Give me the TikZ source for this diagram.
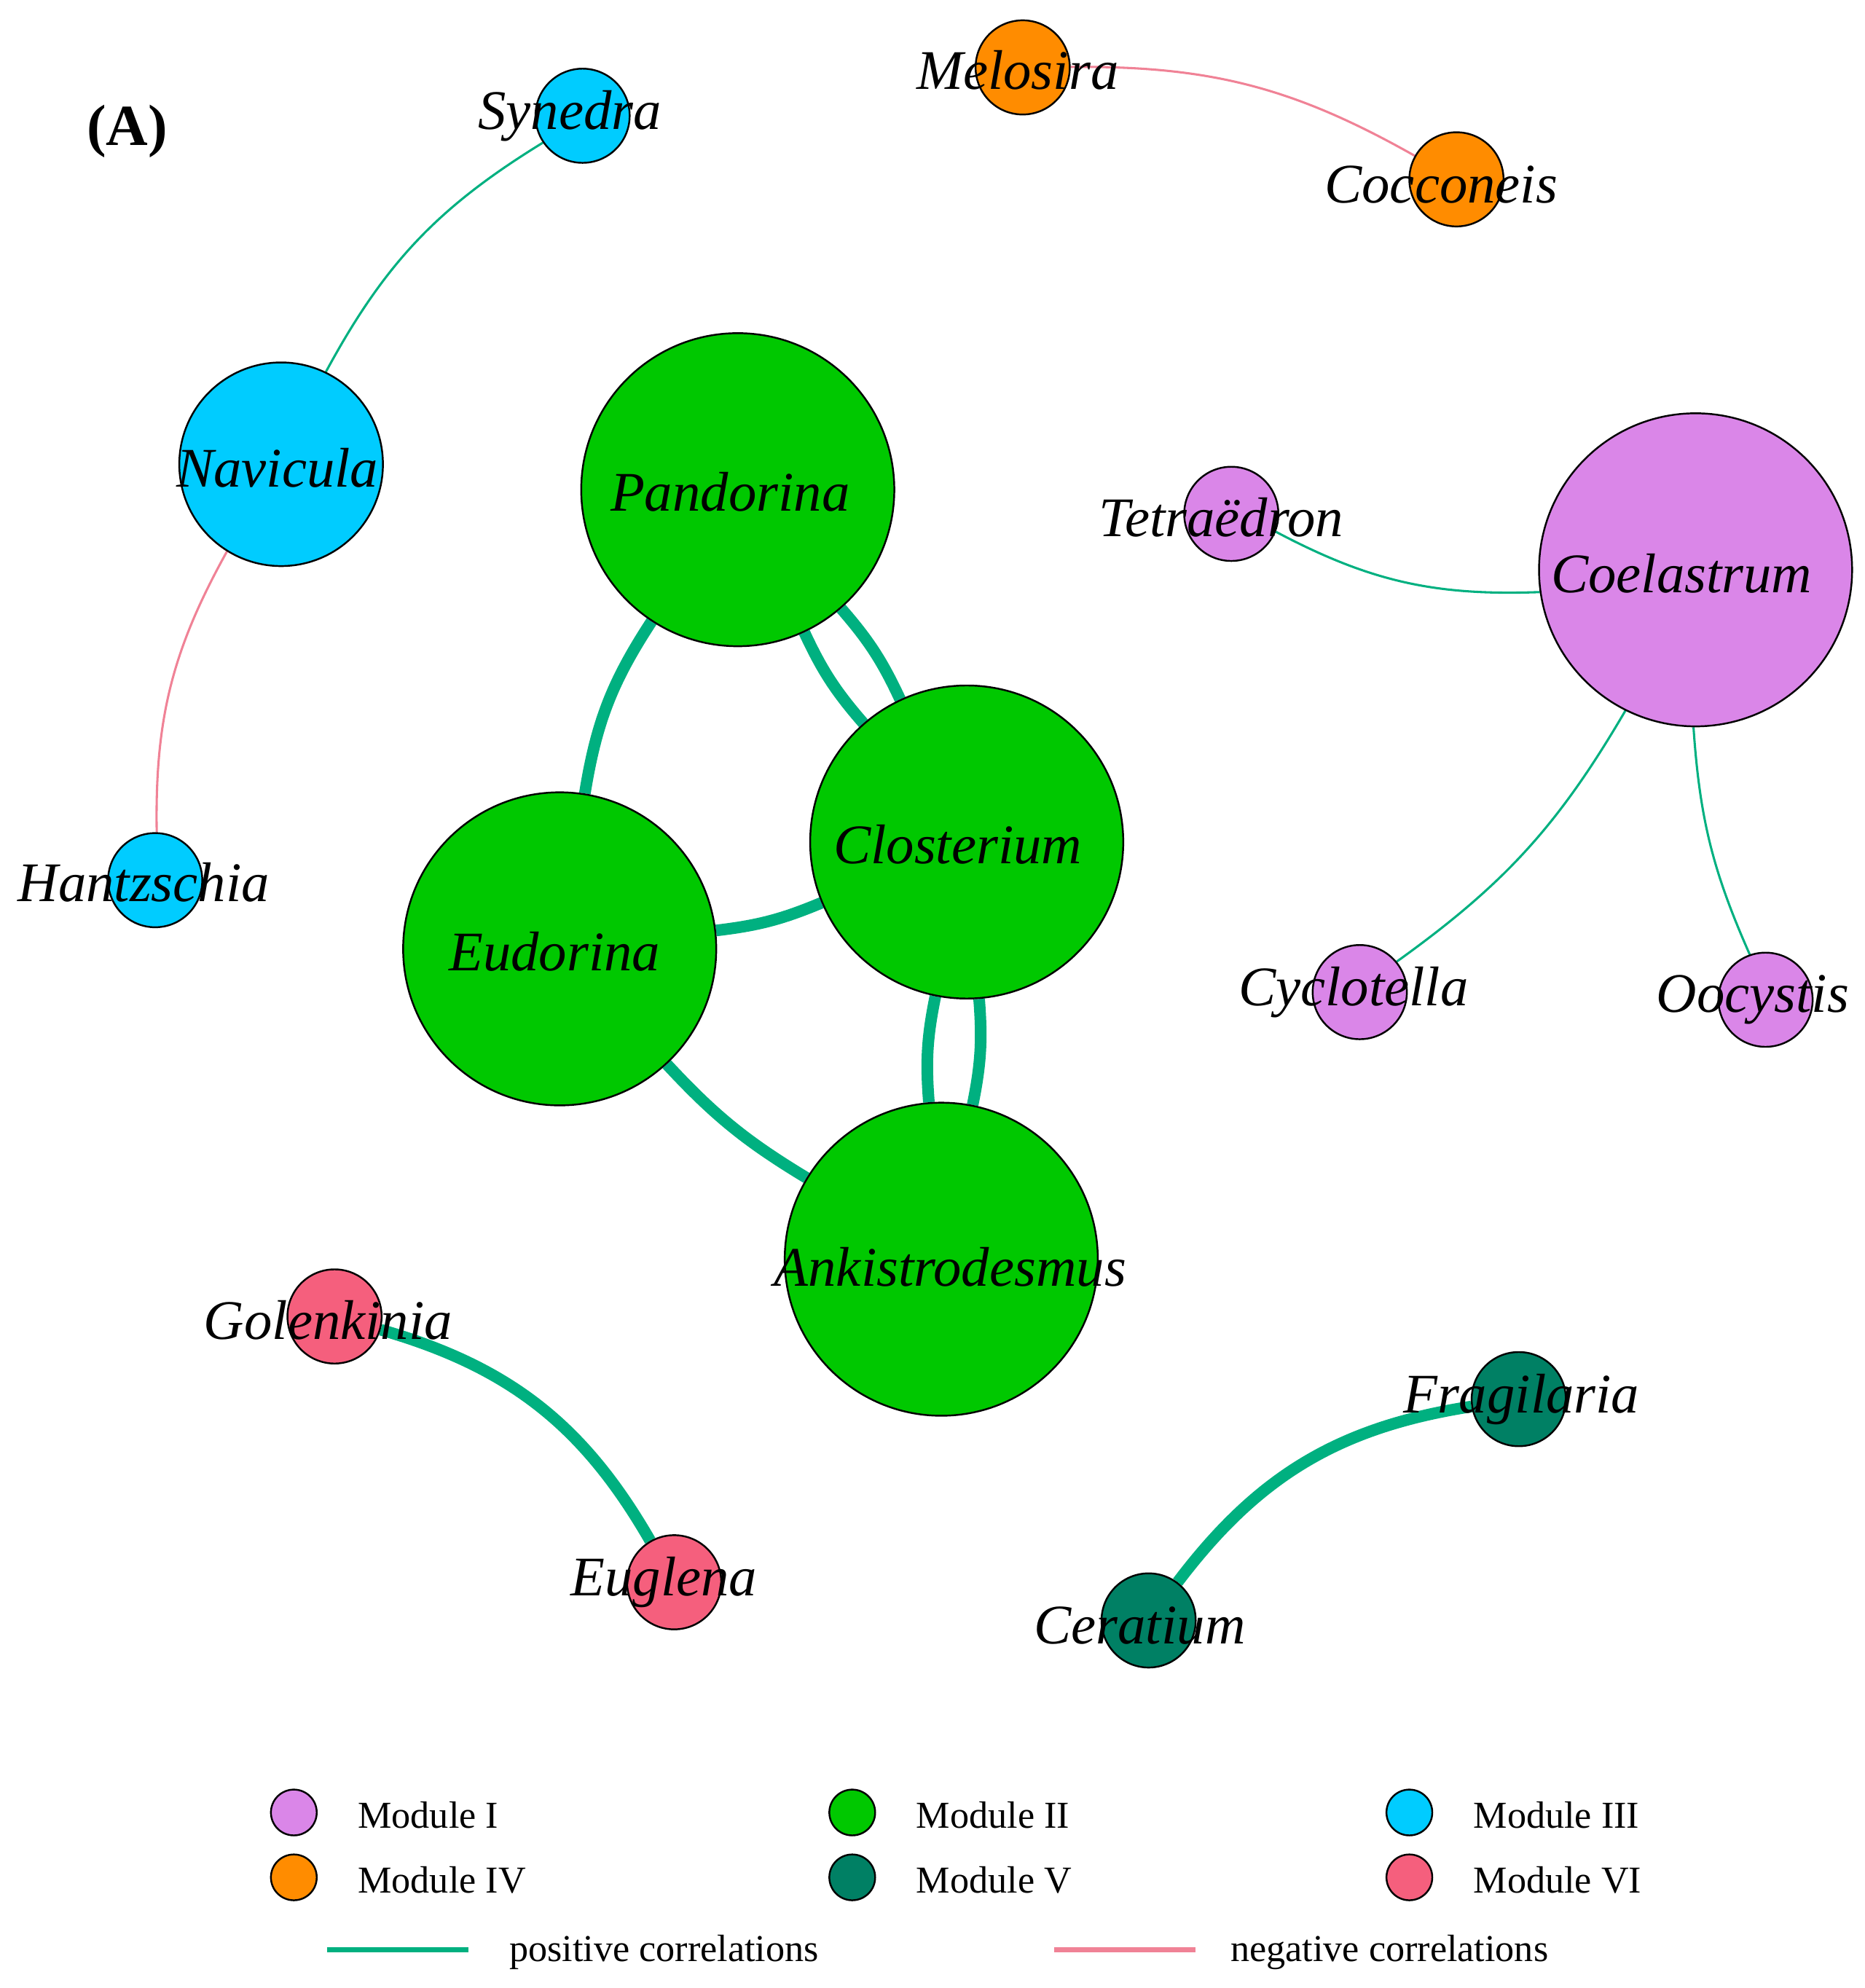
\documentclass[tikz,border=0pt]{standalone}
\usepackage{fontspec}
\setmainfont{Liberation Serif}
\usetikzlibrary{backgrounds}
\definecolor{viol}{RGB}{218,134,232}
\definecolor{grn}{RGB}{0,200,0}
\definecolor{cyn}{RGB}{0,204,255}
\definecolor{orng}{RGB}{255,140,0}
\definecolor{dteal}{RGB}{0,128,100}
\definecolor{pnk}{RGB}{245,95,125}
\definecolor{poscol}{RGB}{0,176,128}
\definecolor{negcol}{RGB}{240,130,150}

\tikzset{
  taxon/.style={circle,draw=black,thin,inner sep=0pt,minimum size=#1},
  lab/.style={font=\fontsize{12.5}{14}\selectfont\itshape},
  posthin/.style={draw=poscol,line width=0.5pt},
  posthick/.style={draw=poscol,line width=2.6pt},
  negthin/.style={draw=negcol,line width=0.5pt},
  legtext/.style={font=\fontsize{8.5}{10}\selectfont,anchor=west}
}

\begin{document}
\begin{tikzpicture}[x=0.01cm,y=-0.01cm]
\useasboundingbox (0,0) rectangle (1466,1563);

\node[font=\fontsize{13}{15}\selectfont\bfseries] (tag) at (100,103) {(A)};

% small nodes
\node[taxon=0.74cm,fill=cyn] (Syn) at (458,91) {};
\node[taxon=0.74cm,fill=orng] (Mel) at (804,53) {};
\node[taxon=0.74cm,fill=orng] (Coc) at (1145,141) {};
\node[taxon=1.6cm,fill=cyn] (Nav) at (221,365) {};
\node[taxon=2.46cm,fill=grn] (Pan) at (580,385) {};
\node[taxon=0.74cm,fill=viol] (Tet) at (968,404) {};
\node[taxon=2.46cm,fill=viol] (Coe) at (1333,448) {};
\node[taxon=0.74cm,fill=cyn] (Han) at (122,692) {};
\node[taxon=2.46cm,fill=grn] (Clo) at (760,662) {};
\node[taxon=2.46cm,fill=grn] (Eud) at (440,746) {};
\node[taxon=0.74cm,fill=viol] (Cyc) at (1069,780) {};
\node[taxon=0.74cm,fill=viol] (Ooc) at (1388,786) {};
\node[taxon=2.46cm,fill=grn] (Ank) at (740,990) {};
\node[taxon=0.74cm,fill=pnk] (Gol) at (263,1035) {};
\node[taxon=0.74cm,fill=dteal] (Fra) at (1194,1100) {};
\node[taxon=0.74cm,fill=pnk] (Eug) at (530,1244) {};
\node[taxon=0.74cm,fill=dteal] (Cer) at (903,1274) {};

% labels
\node[lab] at (448,91) {Synedra};
\node[lab] at (800,55) {Melosira};
\node[lab] at (1133,145) {Cocconeis};
\node[lab] at (218,368) {Navicula};
\node[lab] at (574,387) {Pandorina};
\node[lab] at (960,407) {Tetraëdron};
\node[lab] at (1322,451) {Coelastrum};
\node[lab] at (113,694) {Hantzschia};
\node[lab] at (753,664) {Closterium};
\node[lab] at (436,748) {Eudorina};
\node[lab] at (1064,780) {Cyclotella};
\node[lab] at (1378,786) {Oocystis};
\node[lab] at (747,996) {Ankistrodesmus};
\node[lab] at (258,1038) {Golenkinia};
\node[lab] at (1196,1100) {Fragilaria};
\node[lab] at (522,1244) {Euglena};
\node[lab] at (896,1278) {Ceratium};

% correlations
\begin{scope}[on background layer]
\draw[posthin] (Nav) to[bend left=15] (Syn);
\draw[negthin] (Nav) to[bend right=15] (Han);
\draw[negthin] (Mel) to[bend left=15] (Coc);
\draw[posthin] (Tet) to[bend right=15] (Coe);
\draw[posthin] (Coe) to[bend left=12] (Cyc);
\draw[posthin] (Coe) to[bend right=10] (Ooc);
\draw[posthick] (Pan) to[bend right=12] (Eud);
\draw[posthick] (Pan) to[bend left=8] (Clo);
\draw[posthick] (Pan) to[bend right=8] (Clo);
\draw[posthick] (Clo) to[bend left=8] (Ank);
\draw[posthick] (Clo) to[bend right=8] (Ank);
\draw[posthick] (Eud) to[bend right=8] (Clo);
\draw[posthick] (Eud) to[bend right=8] (Ank);
\draw[posthick] (Gol) to[bend left=22] (Eug);
\draw[posthick] (Cer) to[bend left=22] (Fra);
\end{scope}

% legend
\foreach \cx/\cy/\col/\txt [count=\i] in {231/1425/viol/Module I,670/1425/grn/Module II,1108/1425/cyn/Module III,231/1476/orng/Module IV,670/1476/dteal/Module V,1108/1476/pnk/Module VI}{
  \node[taxon=0.36cm,fill=\col] (key\i) at (\cx,\cy) {};
  \node[legtext] at (\cx+38,\cy+2) {\txt};
}
\coordinate (posA) at (257,1533);
\coordinate (posB) at (368,1533);
\coordinate (negA) at (829,1533);
\coordinate (negB) at (940,1533);
\draw[poscol,line width=1.2pt] (posA) -- (posB);
\draw[negcol,line width=1.2pt] (negA) -- (negB);
\node[legtext] at (388,1535) {positive correlations};
\node[legtext] at (955,1535) {negative correlations};
\end{tikzpicture}
\end{document}
